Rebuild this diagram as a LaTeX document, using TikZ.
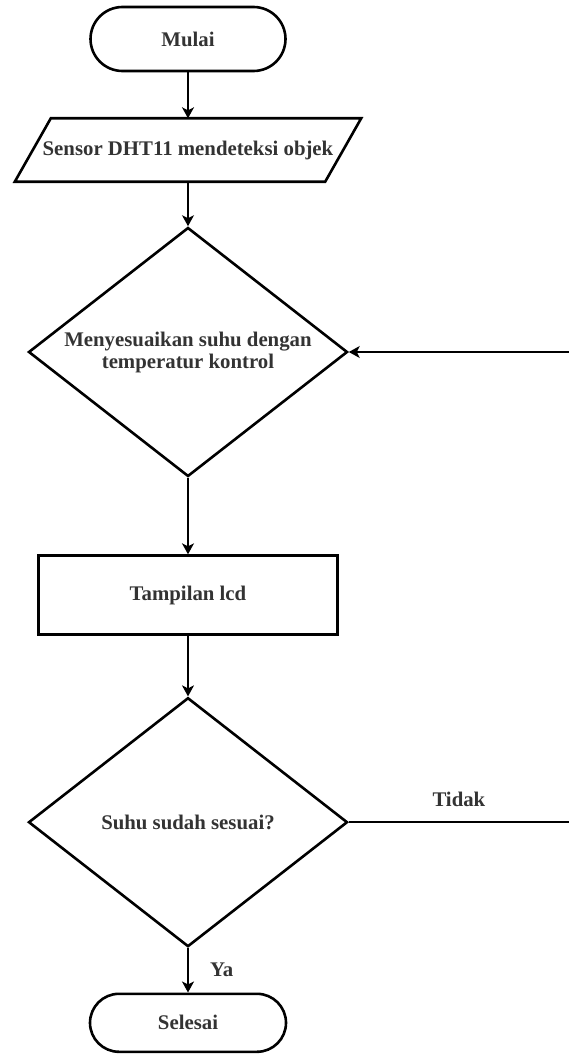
\documentclass[tikz,border=0pt]{standalone}
\usepackage{fontspec}
\setmainfont{Liberation Serif}
\usetikzlibrary{arrows.meta, positioning, shapes.geometric}

\begin{document}
\begin{tikzpicture}[x=1pt, y=1pt,
                every node/.style={font=\fontsize{20.8}{22}\selectfont\bfseries,
                text=black!80},
                garis/.style={draw=black, line width=2.6pt},
                terminal/.style={rectangle,
                rounded corners=29pt,
                garis,
                minimum width=196pt,
                minimum height=58pt},
                io/.style={rectangle,
                minimum width=310pt,
                minimum height=63pt},
                decision/.style={diamond,
                garis,
                aspect=1.28,
                inner sep=0pt,
                minimum width=319pt,
                minimum height=249pt,
                align=center},
                process/.style={rectangle,
                garis,
                minimum width=299pt,
                minimum height=79pt},
                arr/.style={-{Stealth[length=11pt, width=12pt, inset=3pt]}, line width=1.5pt},
                node distance=44.5pt]
                \useasboundingbox (0,0) rectangle (569,-1054);
                \coordinate (tepi) at (569,0);
                \node[terminal, minimum width=195pt, minimum height=64pt,
                      rounded corners=32pt] (mulai) at (188,-39) {Mulai};
                \node[io, below=46pt of mulai] (sensor) {Sensor DHT11 mendeteksi objek};
                \draw[garis] ([xshift=-18pt]sensor.south west)
                    --([xshift=18pt]sensor.north west)
                    --([xshift=18pt]sensor.north east)
                    --([xshift=-18pt]sensor.south east)--cycle;
                \node[decision, below=of sensor] (sesuaikan)
                    {Menyesuaikan suhu dengan\\temperatur kontrol};
                \node[process, below=76.5pt of sesuaikan] (lcd) {Tampilan lcd};
                \node[decision, below=60.5pt of lcd] (cek) {Suhu sudah sesuai?};
                \node[terminal, below=of cek] (selesai) {Selesai};
                \draw[arr] (mulai)--(sensor);
                \draw[arr] (sensor)--(sesuaikan);
                \draw[arr] (sesuaikan)--(lcd);
                \draw[arr] (lcd)--(cek);
                \draw[arr] (cek)--node[right, xshift=18pt] {Ya} (selesai);
                \draw[line width=1.5pt] (cek.east)--node[above, yshift=11pt] {Tidak}
                    (cek.east -| tepi);
                \draw[arr] (sesuaikan.east -| tepi)--(sesuaikan.east);
            \end{tikzpicture}
\end{document}
